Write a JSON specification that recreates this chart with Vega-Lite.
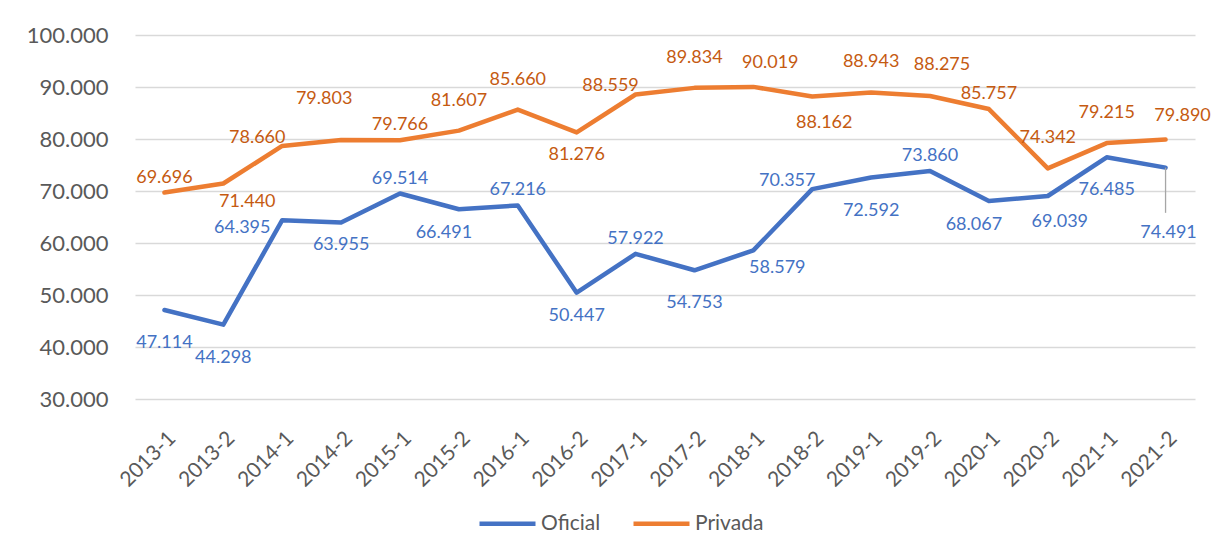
{
  "$schema": "https://vega.github.io/schema/vega-lite/v6.json",
  "width": 1060,
  "height": 364,
  "autosize": {"type": "none"},
  "padding": {"left": 135, "top": 35, "right": 25, "bottom": 160},
  "background": "white",
  "config": {
    "font": "Lato",
    "view": {"stroke": null},
    "locale": {"number": {"decimal": ",", "thousands": ".", "grouping": [3], "currency": ["", " €"]}}
  },
  "data": {"values": [
    {"periodo": "2013-1", "serie": "Oficial", "valor": 47114, "pos": "S"},
    {"periodo": "2013-2", "serie": "Oficial", "valor": 44298, "pos": "S"},
    {"periodo": "2014-1", "serie": "Oficial", "valor": 64395, "pos": "w"},
    {"periodo": "2014-2", "serie": "Oficial", "valor": 63955, "pos": "s"},
    {"periodo": "2015-1", "serie": "Oficial", "valor": 69514, "pos": "n"},
    {"periodo": "2015-2", "serie": "Oficial", "valor": 66491, "pos": "sw"},
    {"periodo": "2016-1", "serie": "Oficial", "valor": 67216, "pos": "n"},
    {"periodo": "2016-2", "serie": "Oficial", "valor": 50447, "pos": "s"},
    {"periodo": "2017-1", "serie": "Oficial", "valor": 57922, "pos": "n"},
    {"periodo": "2017-2", "serie": "Oficial", "valor": 54753, "pos": "S"},
    {"periodo": "2018-1", "serie": "Oficial", "valor": 58579, "pos": "se"},
    {"periodo": "2018-2", "serie": "Oficial", "valor": 70357, "pos": "nw"},
    {"periodo": "2019-1", "serie": "Oficial", "valor": 72592, "pos": "S"},
    {"periodo": "2019-2", "serie": "Oficial", "valor": 73860, "pos": "n"},
    {"periodo": "2020-1", "serie": "Oficial", "valor": 68067, "pos": "sw"},
    {"periodo": "2020-2", "serie": "Oficial", "valor": 69039, "pos": "sE"},
    {"periodo": "2021-1", "serie": "Oficial", "valor": 76485, "pos": "S"},
    {"periodo": "2021-2", "serie": "Oficial", "valor": 74491, "pos": "S2"},
    {"periodo": "2013-1", "serie": "Privada", "valor": 69696, "pos": "n"},
    {"periodo": "2013-2", "serie": "Privada", "valor": 71440, "pos": "se"},
    {"periodo": "2014-1", "serie": "Privada", "valor": 78660, "pos": "nw"},
    {"periodo": "2014-2", "serie": "Privada", "valor": 79803, "pos": "NW2"},
    {"periodo": "2015-1", "serie": "Privada", "valor": 79766, "pos": "n"},
    {"periodo": "2015-2", "serie": "Privada", "valor": 81607, "pos": "N"},
    {"periodo": "2016-1", "serie": "Privada", "valor": 85660, "pos": "N"},
    {"periodo": "2016-2", "serie": "Privada", "valor": 81276, "pos": "s"},
    {"periodo": "2017-1", "serie": "Privada", "valor": 88559, "pos": "nw"},
    {"periodo": "2017-2", "serie": "Privada", "valor": 89834, "pos": "N"},
    {"periodo": "2018-1", "serie": "Privada", "valor": 90019, "pos": "ne"},
    {"periodo": "2018-2", "serie": "Privada", "valor": 88162, "pos": "sE"},
    {"periodo": "2019-1", "serie": "Privada", "valor": 88943, "pos": "N"},
    {"periodo": "2019-2", "serie": "Privada", "valor": 88275, "pos": "NE2"},
    {"periodo": "2020-1", "serie": "Privada", "valor": 85757, "pos": "n"},
    {"periodo": "2020-2", "serie": "Privada", "valor": 74342, "pos": "N"},
    {"periodo": "2021-1", "serie": "Privada", "valor": 79215, "pos": "N"},
    {"periodo": "2021-2", "serie": "Privada", "valor": 79890, "pos": "ne"}
  ]},
  "encoding": {
    "x": {
      "field": "periodo", "type": "ordinal", "sort": null,
      "scale": {"type": "point", "padding": 0.5},
      "axis": {"title": null, "labelAngle": -45, "labelFontSize": 21, "labelColor": "#595959", "domain": false, "ticks": false, "grid": false, "labelPadding": 28}
    },
    "y": {
      "field": "valor", "type": "quantitative",
      "scale": {"domain": [30000, 100000], "nice": false, "zero": false},
      "axis": {"title": null, "values": [30000, 40000, 50000, 60000, 70000, 80000, 90000, 100000], "format": ",.0f", "labelFontSize": 22, "labelColor": "#595959", "domain": false, "ticks": false, "grid": true, "gridColor": "#D9D9D9", "gridWidth": 1.3, "labelPadding": 27}
    }
  },
  "layer": [
    {
      "mark": {"type": "line", "strokeWidth": 4.5, "strokeCap": "round", "strokeJoin": "round"},
      "encoding": {
        "color": {
          "field": "serie", "type": "nominal",
          "scale": {"domain": ["Oficial", "Privada"], "range": ["#4472C4", "#ED7D31"]},
          "legend": {"title": null, "orient": "none", "legendX": 342, "legendY": 458, "direction": "horizontal", "symbolType": "stroke", "symbolSize": 3136, "symbolStrokeWidth": 4.5, "labelFontSize": 21, "labelColor": "#595959", "labelOffset": 3, "columnPadding": 23}
        }
      }
    },
    {
      "data": {"values": [{"periodo": "2021-2", "desde": 74491, "hasta": 65800}]},
      "mark": {"type": "rule", "color": "#A6A6A6", "strokeWidth": 1.3},
      "encoding": {"y": {"field": "desde", "type": "quantitative"}, "y2": {"field": "hasta"}}
    },
    {"transform": [{"filter": "datum.pos == 'n'"}], "mark": {"type": "text", "dy": -15, "fontSize": 18}, "encoding": {"text": {"field": "valor", "format": ",.0f"}, "fill": {"field": "serie", "scale": {"domain": ["Oficial", "Privada"], "range": ["#4472C4", "#C55A11"]}, "legend": null}}},
    {"transform": [{"filter": "datum.pos == 'N'"}], "mark": {"type": "text", "dy": -30, "fontSize": 18}, "encoding": {"text": {"field": "valor", "format": ",.0f"}, "fill": {"field": "serie", "legend": null}}},
    {"transform": [{"filter": "datum.pos == 's'"}], "mark": {"type": "text", "dy": 23, "fontSize": 18}, "encoding": {"text": {"field": "valor", "format": ",.0f"}, "fill": {"field": "serie", "legend": null}}},
    {"transform": [{"filter": "datum.pos == 'sw'"}], "mark": {"type": "text", "dx": -15, "dy": 24, "fontSize": 18}, "encoding": {"text": {"field": "valor", "format": ",.0f"}, "fill": {"field": "serie", "legend": null}}},
    {"transform": [{"filter": "datum.pos == 'sE'"}], "mark": {"type": "text", "dx": 12, "dy": 26, "fontSize": 18}, "encoding": {"text": {"field": "valor", "format": ",.0f"}, "fill": {"field": "serie", "legend": null}}},
    {"transform": [{"filter": "datum.pos == 'S'"}], "mark": {"type": "text", "dy": 33, "fontSize": 18}, "encoding": {"text": {"field": "valor", "format": ",.0f"}, "fill": {"field": "serie", "legend": null}}},
    {"transform": [{"filter": "datum.pos == 'w'"}], "mark": {"type": "text", "dx": -40, "dy": 8, "fontSize": 18}, "encoding": {"text": {"field": "valor", "format": ",.0f"}, "fill": {"field": "serie", "legend": null}}},
    {"transform": [{"filter": "datum.pos == 'nw'"}], "mark": {"type": "text", "dx": -25, "dy": -8, "fontSize": 18}, "encoding": {"text": {"field": "valor", "format": ",.0f"}, "fill": {"field": "serie", "legend": null}}},
    {"transform": [{"filter": "datum.pos == 'ne'"}], "mark": {"type": "text", "dx": 17, "dy": -24, "fontSize": 18}, "encoding": {"text": {"field": "valor", "format": ",.0f"}, "fill": {"field": "serie", "legend": null}}},
    {"transform": [{"filter": "datum.pos == 'se'"}], "mark": {"type": "text", "dx": 24, "dy": 18, "fontSize": 18}, "encoding": {"text": {"field": "valor", "format": ",.0f"}, "fill": {"field": "serie", "legend": null}}},
    {"transform": [{"filter": "datum.pos == 'S2'"}], "mark": {"type": "text", "dx": 3, "dy": 65, "fontSize": 18}, "encoding": {"text": {"field": "valor", "format": ",.0f"}, "fill": {"field": "serie", "legend": null}}},
    {"transform": [{"filter": "datum.pos == 'NW2'"}], "mark": {"type": "text", "dx": -17, "dy": -41, "fontSize": 18}, "encoding": {"text": {"field": "valor", "format": ",.0f"}, "fill": {"field": "serie", "legend": null}}},
    {"transform": [{"filter": "datum.pos == 'NE2'"}], "mark": {"type": "text", "dx": 12, "dy": -31, "fontSize": 18}, "encoding": {"text": {"field": "valor", "format": ",.0f"}, "fill": {"field": "serie", "legend": null}}}
  ]
}
